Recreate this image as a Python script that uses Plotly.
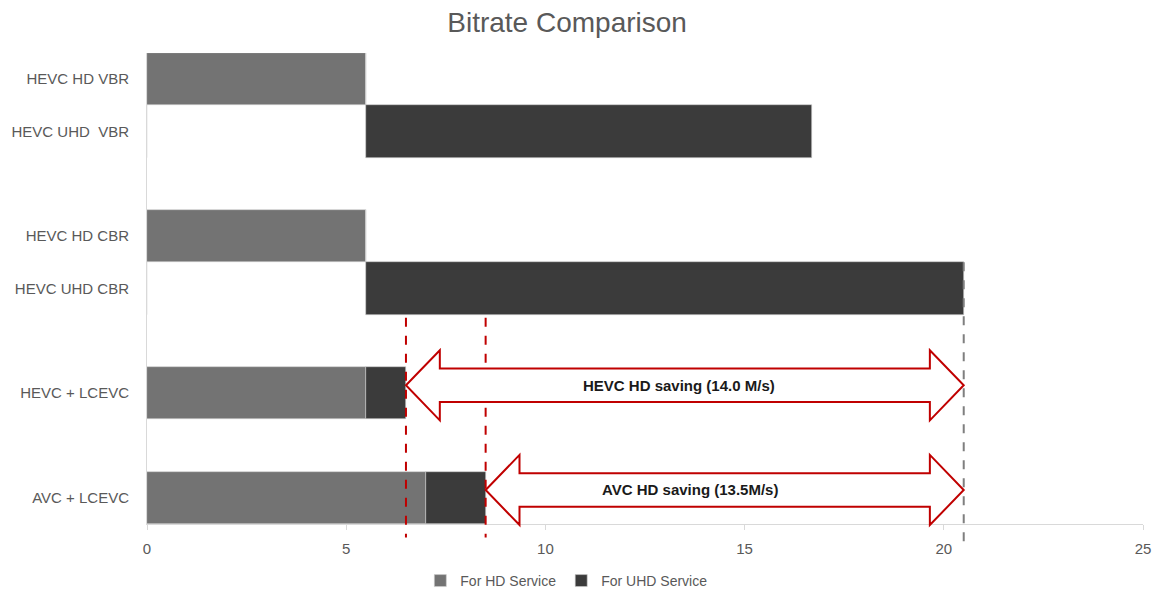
import plotly.graph_objects as go

# ---- data ----
categories = ["HEVC HD VBR", "HEVC UHD  VBR", "HEVC HD CBR", "HEVC UHD CBR", "HEVC + LCEVC", "AVC + LCEVC"]
slots = [0, 1, 3, 4, 6, 8]              # row positions (empty rows between groups)
hd_service = [5.5, 0, 5.5, 0, 5.5, 7.0]
blank_offset = [0, 5.5, 0, 5.5, 0, 0]   # invisible spacer series
uhd_service = [0, 11.2, 0, 15.0, 1.0, 1.5]
saving_labels = ["HEVC HD saving (14.0 M/s)", "AVC HD saving (13.5M/s)"]
saving_label_x = [13.35, 13.63]

HD_COLOR = "#737373"
UHD_COLOR = "#3b3b3b"
RED = "#c00000"
TXT = "#595959"

uhd_base = [h + b for h, b in zip(hd_service, blank_offset)]
totals = [b + u for b, u in zip(uhd_base, uhd_service)]

Y_LO, Y_HI = -0.5, 8.5


def py(s):
    """row position -> paper fraction (reversed axis)."""
    return (Y_HI - s) / (Y_HI - Y_LO)


fig = go.Figure()
fig.add_trace(go.Bar(
    y=slots, x=hd_service, orientation="h", name="For HD Service",
    marker=dict(color=HD_COLOR, line=dict(color="#d0d0d0", width=0.6)),
    width=1.0,
))
fig.add_trace(go.Bar(
    y=slots, x=uhd_service, base=uhd_base, orientation="h", name="For UHD Service",
    marker=dict(color=UHD_COLOR, line=dict(color="#d0d0d0", width=0.6)),
    width=1.0,
))

shapes = []
ref_end = totals[3]  # HEVC UHD CBR end
# grey dashed reference line
shapes.append(dict(type="line", xref="x", yref="paper", x0=ref_end, x1=ref_end,
                   y0=py(3.5), y1=py(8.98), line=dict(color="#7f7f7f", width=2, dash="dash")))
# red dashed lines
for t in (totals[4], totals[5]):
    shapes.append(dict(type="line", xref="x", yref="paper", x0=t, x1=t,
                       y0=py(4.56), y1=py(8.76), line=dict(color=RED, width=2, dash="dash")))

HL = 0.85   # head length (x units)
HH = 0.67   # head half-height (rows)
SH = 0.32   # shaft half-height (rows)
annotations = []
for i, (start, row) in enumerate([(totals[4], slots[4]), (totals[5], slots[5])]):
    yc = row - 0.15
    x0, x1 = start, ref_end
    pts = [
        (x0, yc), (x0 + HL, yc - HH), (x0 + HL, yc - SH), (x1 - HL, yc - SH),
        (x1 - HL, yc - HH), (x1, yc), (x1 - HL, yc + HH), (x1 - HL, yc + SH),
        (x0 + HL, yc + SH), (x0 + HL, yc + HH),
    ]
    path = "M " + " L ".join(f"{x},{py(y)}" for x, y in pts) + " Z"
    shapes.append(dict(type="path", xref="x", yref="paper", path=path,
                       fillcolor="white", line=dict(color=RED, width=2), layer="above"))
    annotations.append(dict(x=saving_label_x[i], y=py(yc), xref="x", yref="paper",
                            xanchor="center", yanchor="middle",
                            text="<b>" + saving_labels[i] + "</b>", showarrow=False,
                            font=dict(family="Liberation Sans Narrow, Arial Narrow, Arial", size=15, color="#1a1a1a")))

fig.update_layout(
    width=1155, height=589,
    paper_bgcolor="white", plot_bgcolor="white",
    barmode="overlay", bargap=0,
    margin=dict(l=147, r=12, t=53, b=65, autoexpand=False),
    title=dict(text="Bitrate Comparison", x=0.491, xanchor="center", y=1 - 22 / 589, yanchor="middle",
               font=dict(family="Liberation Sans, Arial", size=28, color=TXT)),
    font=dict(family="Liberation Sans, Arial", size=15, color=TXT),
    xaxis=dict(range=[0, 25], dtick=5, tick0=0, showgrid=False, zeroline=False,
               showline=True, linecolor="#d9d9d9", linewidth=1,
               ticks="outside", ticklen=5, tickcolor="#d9d9d9",
               ticklabelstandoff=6, automargin=False, ticklabeloverflow="allow",
               tickfont=dict(size=15, color=TXT)),
    yaxis=dict(range=[Y_HI, Y_LO], tickmode="array", tickvals=slots, ticktext=categories,
               showgrid=False, zeroline=False, showline=True, linecolor="#d9d9d9", linewidth=1,
               ticks="", ticklabelstandoff=14, automargin=False,
               tickfont=dict(size=15, color=TXT)),
    legend=dict(orientation="h", x=0.421, xanchor="center", y=-0.121, yanchor="middle",
                font=dict(size=14, color=TXT), traceorder="normal"),
    shapes=shapes, annotations=annotations,
)

fig.write_html("out.html", config={"displayModeBar": False},
               post_script="document.body.style.margin='0';document.body.style.overflow='hidden';")
